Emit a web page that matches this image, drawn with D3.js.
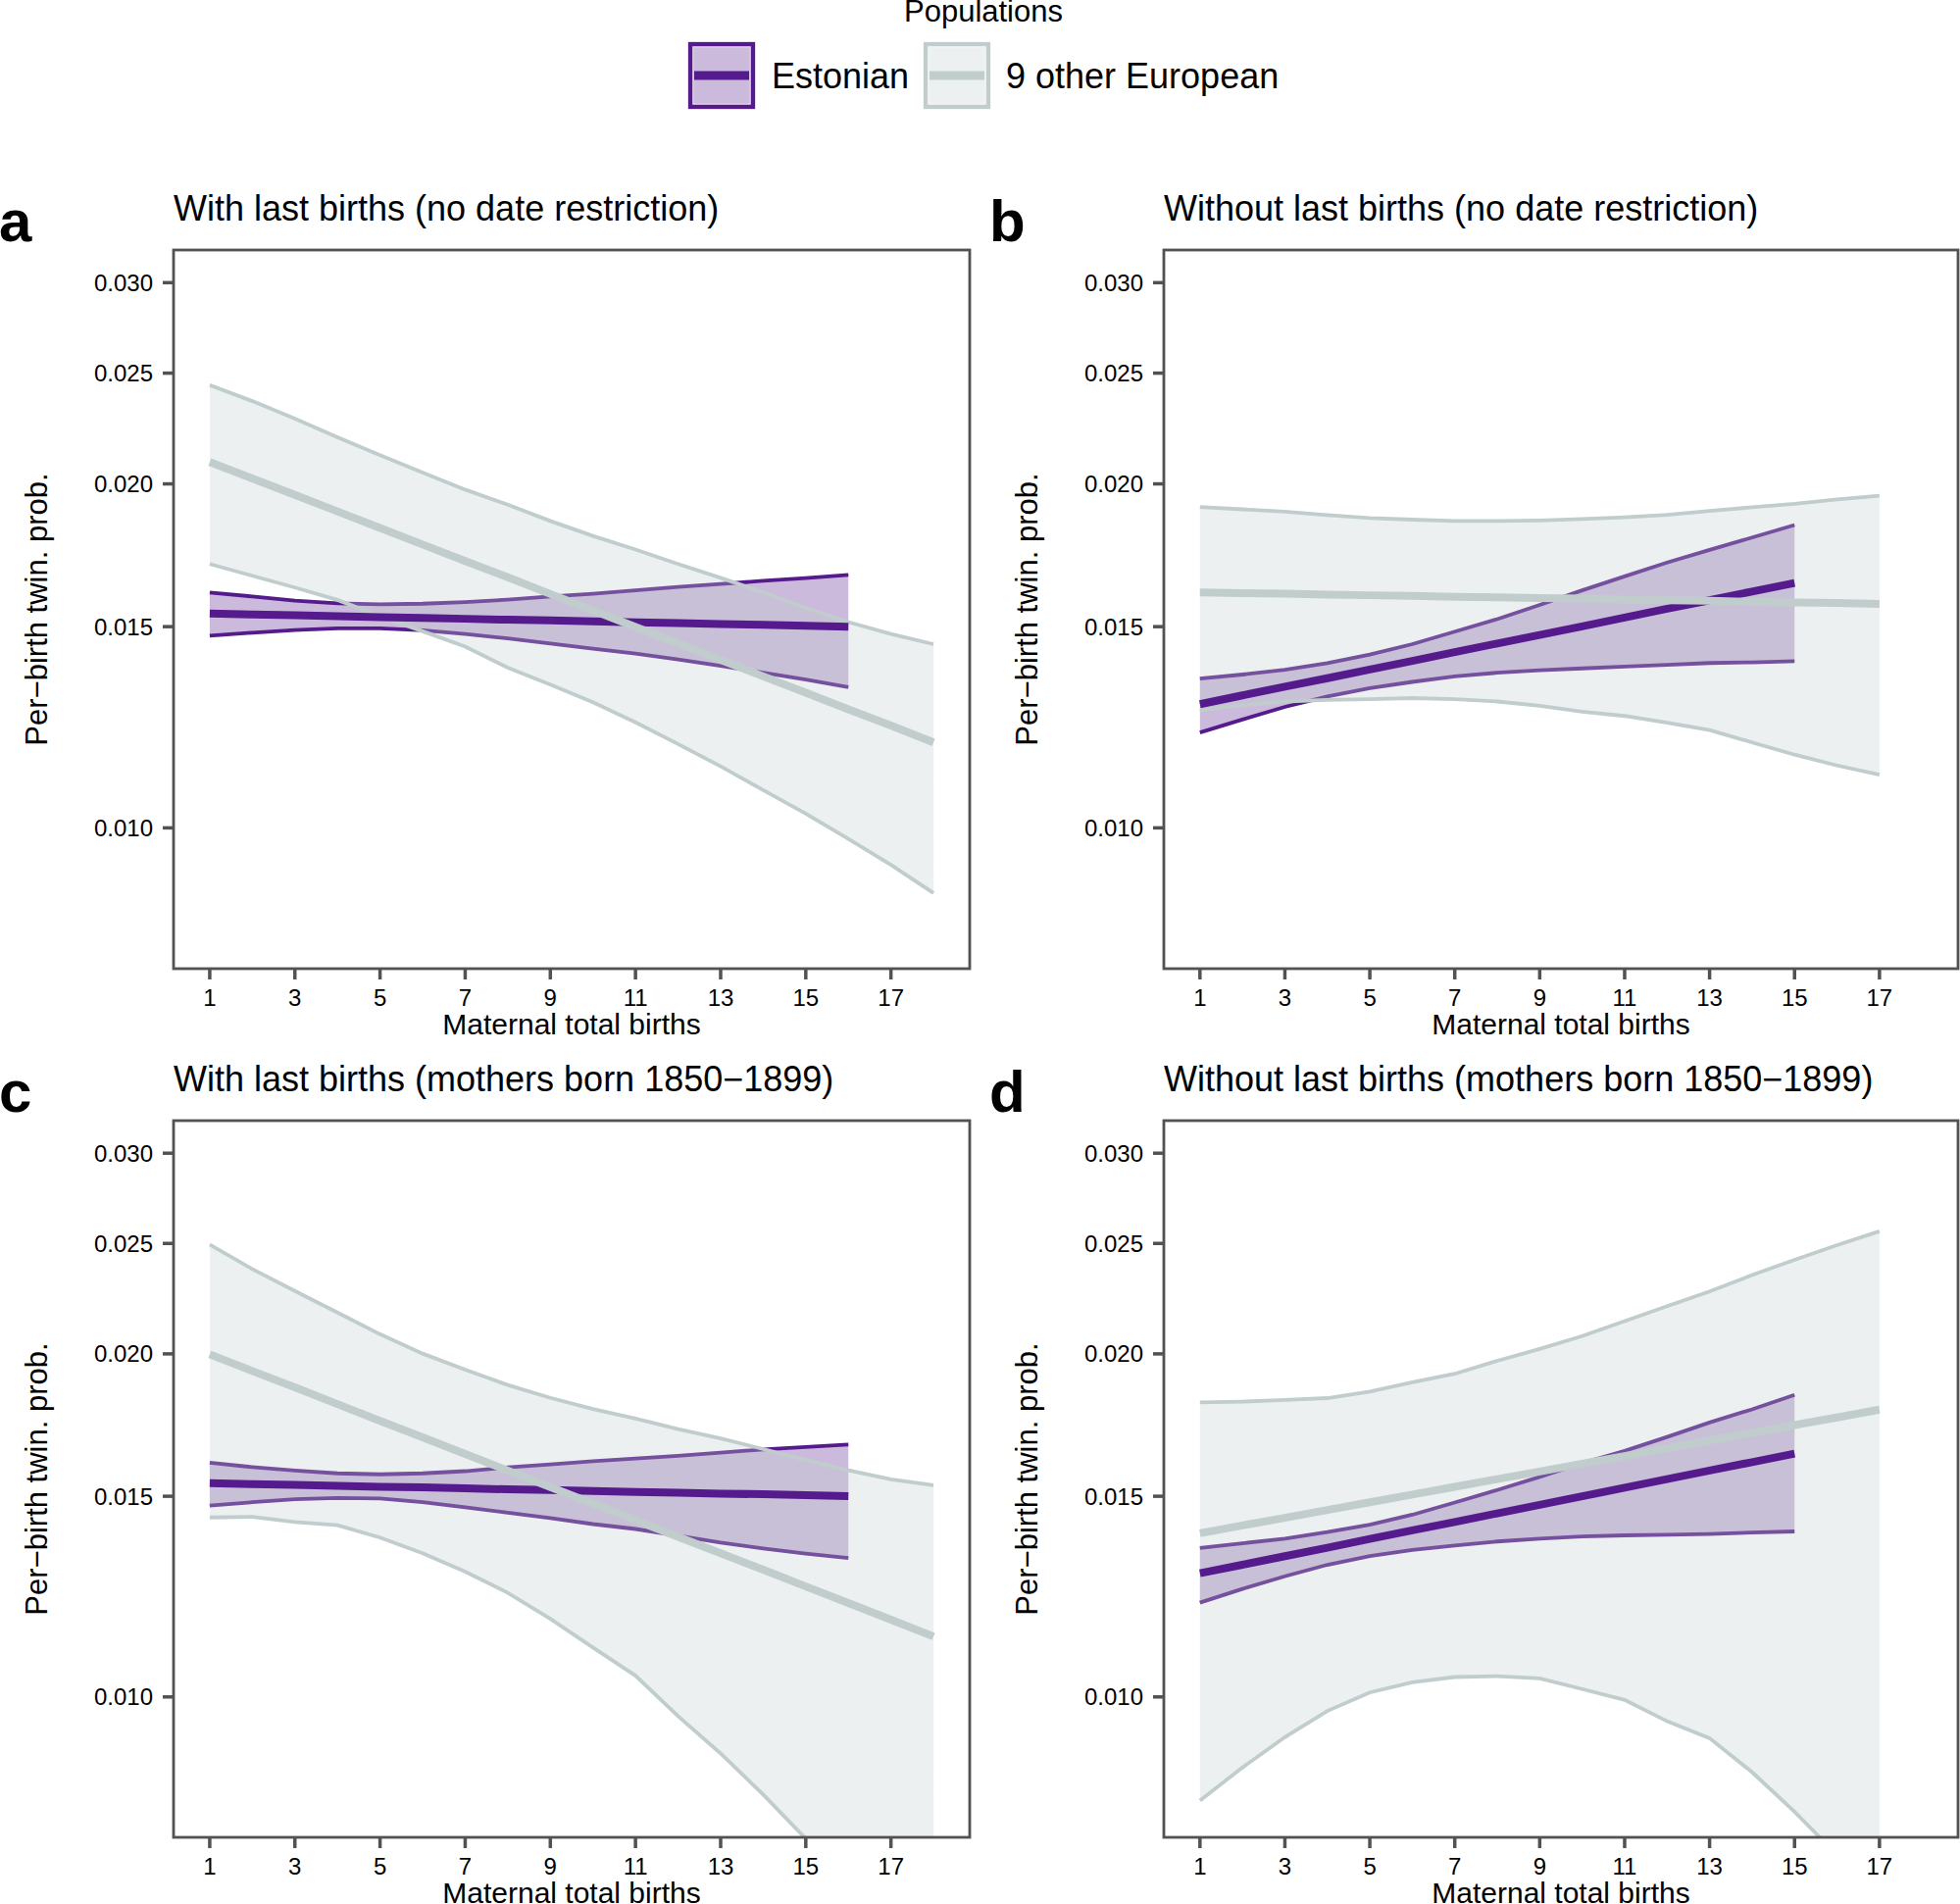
<!DOCTYPE html>
<html>
<head>
<meta charset="utf-8">
<script src="https://cdn.jsdelivr.net/npm/d3@7"></script>
<style>
html,body{margin:0;padding:0;background:#fff;}
svg{display:block;}
text{font-family:"Liberation Sans",Arial,Helvetica,sans-serif;fill:#000;}
</style>
</head>
<body>
<svg id="chart" width="1999" height="1942"></svg>
<script>
// ---------- categories / ticks ----------
const births18 = [1,2,3,4,5,6,7,8,9,10,11,12,13,14,15,16,17,18];
const births17 = [1,2,3,4,5,6,7,8,9,10,11,12,13,14,15,16,17];
const births16 = [1,2,3,4,5,6,7,8,9,10,11,12,13,14,15,16];
const births15 = [1,2,3,4,5,6,7,8,9,10,11,12,13,14,15];
const xTicks = [1,3,5,7,9,11,13,15,17];
const yTicks = [0.010,0.015,0.020,0.025,0.030];
const yTickLabels = ["0.010","0.015","0.020","0.025","0.030"];
const panelLetters = ["a","b","c","d"];
const panelTitles = [
  "With last births (no date restriction)",
  "Without last births (no date restriction)",
  "With last births (mothers born 1850\u22121899)",
  "Without last births (mothers born 1850\u22121899)"
];
const seriesNames = ["Estonian","9 other European"];
const legendTitle = "Populations";
const xTitle = "Maternal total births";
const yTitle = "Per\u2212birth twin. prob.";

// ---------- panel a ----------
const aEstFit = [0.01540,0.01537,0.01535,0.01532,0.01529,0.01527,0.01524,0.01521,0.01519,0.01516,0.01513,0.01511,0.01508,0.01506,0.01503,0.01500];
const aEstLo  = [0.01473,0.01482,0.01490,0.01495,0.01495,0.01489,0.01478,0.01465,0.01450,0.01435,0.01421,0.01404,0.01386,0.01367,0.01348,0.01328];
const aEstHi  = [0.01607,0.01594,0.01581,0.01572,0.01569,0.01571,0.01576,0.01584,0.01594,0.01603,0.01614,0.01625,0.01635,0.01645,0.01654,0.01665];
const aEurFit = [0.02090,0.02022,0.01956,0.01892,0.01830,0.01770,0.01712,0.01657,0.01602,0.01550,0.01499,0.01450,0.01403,0.01357,0.01313,0.01270,0.01229,0.01188];
const aEurLo  = [0.01702,0.01662,0.01623,0.01583,0.01532,0.01486,0.01441,0.01381,0.01335,0.01288,0.01237,0.01184,0.01132,0.01079,0.01029,0.00978,0.00928,0.00877];
const aEurHi  = [0.02441,0.02363,0.02281,0.02197,0.02119,0.02046,0.01977,0.01918,0.01856,0.01801,0.01752,0.01702,0.01655,0.01607,0.01558,0.01514,0.01478,0.01448];

// ---------- panel b ----------
const bEstFit = [0.01283,0.01306,0.01329,0.01352,0.01376,0.01400,0.01425,0.01450,0.01475,0.01501,0.01528,0.01555,0.01582,0.01610,0.01638];
const bEstLo  = [0.01212,0.01244,0.01276,0.01303,0.01325,0.01342,0.01357,0.01367,0.01374,0.01379,0.01384,0.01389,0.01394,0.01396,0.01399];
const bEstHi  = [0.01351,0.01362,0.01375,0.01394,0.01418,0.01448,0.01485,0.01523,0.01567,0.01614,0.01660,0.01707,0.01751,0.01795,0.01841];
const bEurFit = [0.01607,0.01605,0.01603,0.01600,0.01598,0.01596,0.01593,0.01591,0.01589,0.01587,0.01584,0.01582,0.01580,0.01577,0.01575,0.01573,0.01570];
const bEurLo  = [0.01267,0.01280,0.01290,0.01294,0.01296,0.01299,0.01296,0.01290,0.01279,0.01264,0.01253,0.01236,0.01218,0.01188,0.01159,0.01134,0.01113];
const bEurHi  = [0.01909,0.01900,0.01891,0.01878,0.01867,0.01861,0.01856,0.01856,0.01858,0.01863,0.01870,0.01879,0.01894,0.01908,0.01921,0.01938,0.01953];

// ---------- panel c ----------
const cEstFit = [0.01540,0.01537,0.01535,0.01532,0.01529,0.01527,0.01524,0.01521,0.01519,0.01516,0.01513,0.01511,0.01508,0.01506,0.01503,0.01500];
const cEstLo  = [0.01472,0.01482,0.01491,0.01495,0.01493,0.01482,0.01467,0.01451,0.01435,0.01418,0.01404,0.01385,0.01366,0.01350,0.01336,0.01324];
const cEstHi  = [0.01605,0.01591,0.01580,0.01571,0.01568,0.01571,0.01578,0.01590,0.01600,0.01610,0.01619,0.01628,0.01638,0.01649,0.01657,0.01665];
const cEurFit = [0.01998,0.01932,0.01869,0.01807,0.01747,0.01690,0.01634,0.01580,0.01528,0.01478,0.01429,0.01382,0.01337,0.01293,0.01250,0.01209,0.01169,0.01130];
const cEurLo  = [0.01437,0.01439,0.01424,0.01415,0.01380,0.01337,0.01288,0.01234,0.01171,0.01105,0.01044,0.00962,0.00892,0.00821,0.00751,0.00682,0.00618,0.00557];
const cEurHi  = [0.02494,0.02374,0.02271,0.02174,0.02081,0.02001,0.01937,0.01878,0.01830,0.01789,0.01755,0.01718,0.01686,0.01650,0.01614,0.01581,0.01552,0.01534];

// ---------- panel d ----------
const dEstFit = [0.01284,0.01306,0.01329,0.01352,0.01376,0.01400,0.01424,0.01449,0.01474,0.01500,0.01526,0.01553,0.01580,0.01607,0.01635];
const dEstLo  = [0.01210,0.01244,0.01276,0.01306,0.01329,0.01346,0.01358,0.01369,0.01377,0.01383,0.01386,0.01388,0.01390,0.01394,0.01397];
const dEstHi  = [0.01351,0.01364,0.01377,0.01395,0.01416,0.01445,0.01481,0.01519,0.01560,0.01604,0.01644,0.01691,0.01741,0.01788,0.01841];
const dEurFit = [0.01392,0.01414,0.01436,0.01459,0.01482,0.01505,0.01529,0.01553,0.01577,0.01602,0.01627,0.01653,0.01679,0.01705,0.01732,0.01759,0.01787];
const dEurLo  = [0.00811,0.00867,0.00922,0.00972,0.01009,0.01030,0.01041,0.01043,0.01038,0.01016,0.00994,0.00952,0.00920,0.00859,0.00793,0.00727,0.00665];
const dEurHi  = [0.01813,0.01816,0.01822,0.01829,0.01853,0.01888,0.01921,0.01972,0.02020,0.02073,0.02137,0.02202,0.02269,0.02345,0.02418,0.02491,0.02562];

// ---------- styling ----------
const colEst = "#551A8B";   // purple4
const colEur = "#C1CDCD";   // azure3
const ribbonAlpha = 0.3;
const axisCol = "#525252";

function zip(xs, fit, lo, hi){ return xs.map((x,i)=>({x:x, fit:fit[i], lo:lo[i], hi:hi[i]})); }

const panels = [
  {left:177,  top:255,  w:812, h:733, est:zip(births16,aEstFit,aEstLo,aEstHi), eur:zip(births18,aEurFit,aEurLo,aEurHi)},
  {left:1187, top:255,  w:810, h:733, est:zip(births15,bEstFit,bEstLo,bEstHi), eur:zip(births17,bEurFit,bEurLo,bEurHi)},
  {left:177,  top:1143, w:812, h:731, est:zip(births16,cEstFit,cEstLo,cEstHi), eur:zip(births18,cEurFit,cEurLo,cEurHi)},
  {left:1187, top:1143, w:810, h:731, est:zip(births15,dEstFit,dEstLo,dEstHi), eur:zip(births17,dEurFit,dEurLo,dEurHi)}
];

const svg = d3.select("#chart");
const defs = svg.append("defs");

panels.forEach((p, i) => {
  const x = d3.scaleLinear().domain([0.15, 18.85]).range([p.left, p.left + p.w]);
  const y = d3.scaleLog().domain([0.00753, 0.03204]).range([p.top + p.h, p.top]);
  const bottom = p.top + p.h;

  const cid = "clip" + i;
  defs.append("clipPath").attr("id", cid)
    .append("rect").attr("x", p.left).attr("y", p.top).attr("width", p.w).attr("height", p.h);

  const g = svg.append("g");
  const plot = g.append("g").attr("clip-path", "url(#" + cid + ")");

  const area = d3.area().x(d => x(d.x)).y0(d => y(d.lo)).y1(d => y(d.hi));
  const lineLo = d3.line().x(d => x(d.x)).y(d => y(d.lo));
  const lineHi = d3.line().x(d => x(d.x)).y(d => y(d.hi));
  const lineFit = d3.line().x(d => x(d.x)).y(d => y(d.fit));

  // ribbons with outlines (Estonian first, then other European on top)
  [[p.est, colEst], [p.eur, colEur]].forEach(([data, col]) => {
    plot.append("path").attr("d", area(data)).attr("fill", col).attr("fill-opacity", ribbonAlpha).attr("stroke", "none");
    plot.append("path").attr("d", lineLo(data)).attr("fill", "none").attr("stroke", col).attr("stroke-width", 3.8);
    plot.append("path").attr("d", lineHi(data)).attr("fill", "none").attr("stroke", col).attr("stroke-width", 3.8);
  });
  // fitted lines
  plot.append("path").attr("d", lineFit(p.est)).attr("fill", "none").attr("stroke", colEst).attr("stroke-width", 8);
  plot.append("path").attr("d", lineFit(p.eur)).attr("fill", "none").attr("stroke", colEur).attr("stroke-width", 8);

  // panel border
  g.append("rect").attr("x", p.left).attr("y", p.top).attr("width", p.w).attr("height", p.h)
    .attr("fill", "none").attr("stroke", axisCol).attr("stroke-width", 2.8);

  // y axis
  const yAxis = g.append("g");
  yTicks.forEach((t, k) => {
    yAxis.append("line").attr("x1", p.left - 11).attr("x2", p.left).attr("y1", y(t)).attr("y2", y(t))
      .attr("stroke", axisCol).attr("stroke-width", 3.5);
    yAxis.append("text").attr("x", p.left - 21).attr("y", y(t)).attr("dy", "0.35em")
      .attr("text-anchor", "end").style("font-size", "24px").text(yTickLabels[k]);
  });
  // x axis
  const xAxis = g.append("g");
  xTicks.forEach(t => {
    xAxis.append("line").attr("x1", x(t)).attr("x2", x(t)).attr("y1", bottom).attr("y2", bottom + 11)
      .attr("stroke", axisCol).attr("stroke-width", 3.5);
    xAxis.append("text").attr("x", x(t)).attr("y", bottom + 38)
      .attr("text-anchor", "middle").style("font-size", "24px").text(t);
  });

  // axis titles
  g.append("text").attr("x", p.left + p.w / 2).attr("y", bottom + 67)
    .attr("text-anchor", "middle").style("font-size", "30px").text(xTitle);
  g.append("text").attr("transform", "translate(" + (p.left - 129) + "," + (p.top + p.h / 2) + ") rotate(-90)")
    .attr("text-anchor", "middle").style("font-size", "31px").text(yTitle);

  // panel title & letter
  g.append("text").attr("x", p.left).attr("y", p.top - 30).style("font-size", "36px").text(panelTitles[i]);
  g.append("text").attr("x", p.left - 178).attr("y", p.top - 9)
    .style("font-size", "60px").style("font-weight", "bold").text(panelLetters[i]);
});

// ---------- legend ----------
const leg = svg.append("g");
leg.append("text").attr("x", 1003).attr("y", 22).attr("text-anchor", "middle").style("font-size", "31px").text(legendTitle);
const keys = [
  {x:702, col:colEst, tx:787, label:seriesNames[0]},
  {x:942, col:colEur, tx:1026, label:seriesNames[1]}
];
keys.forEach(k => {
  const ky = 43, ks = 68;
  leg.append("rect").attr("x", k.x).attr("y", ky).attr("width", ks).attr("height", ks).attr("fill", "#fff");
  leg.append("rect").attr("x", k.x + 2).attr("y", ky + 2).attr("width", ks - 4).attr("height", ks - 4)
    .attr("fill", k.col).attr("fill-opacity", ribbonAlpha).attr("stroke", k.col).attr("stroke-width", 4.3);
  leg.append("rect").attr("x", k.x + 5).attr("y", ky + 5).attr("width", ks - 10).attr("height", ks - 10)
    .attr("fill", "none").attr("stroke", "#fff").attr("stroke-opacity", 0.35).attr("stroke-width", 1.3);
  leg.append("line").attr("x1", k.x + 6).attr("x2", k.x + ks - 6).attr("y1", ky + ks / 2).attr("y2", ky + ks / 2)
    .attr("stroke", k.col).attr("stroke-width", 9);
  leg.append("text").attr("x", k.tx).attr("y", 90).style("font-size", "36px").text(k.label);
});
</script>
</body>
</html>
